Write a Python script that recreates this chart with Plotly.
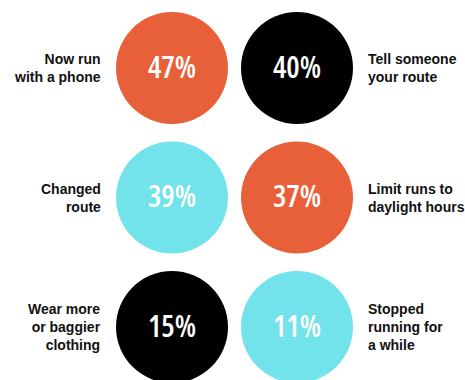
import plotly.graph_objects as go

# Data
labels = [
    "Now run<br>with a phone",
    "Tell someone<br>your route",
    "Changed<br>route",
    "Limit runs to<br>daylight hours",
    "Wear more<br>or baggier<br>clothing",
    "Stopped<br>running for<br>a while",
]
values = [47, 40, 39, 37, 15, 11]
colors = ["#E8603A", "#000000", "#72E2EB", "#E8603A", "#000000", "#72E2EB"]

cols = [i % 2 for i in range(len(values))]
rows = [i // 2 for i in range(len(values))]
pct_text = [f"{v}%" for v in values]

fig = go.Figure()
fig.add_trace(go.Scatter(
    x=cols, y=rows, mode="markers+text",
    marker=dict(size=112, color=colors, line=dict(width=0)),
    text=pct_text, textposition="middle center",
    textfont=dict(family="Open Sans", size=30, color="white", weight=600),
    hoverinfo="skip", cliponaxis=False,
))

for lab, c, r in zip(labels, cols, rows):
    left = c == 0
    fig.add_annotation(
        x=c, y=r, xref="x", yref="y", text=f"<b>{lab}</b>", showarrow=False,
        xanchor="right" if left else "left", yanchor="middle",
        align="right" if left else "left",
        xshift=-69 if left else 69,
        font=dict(family="Liberation Sans, Arial, sans-serif", size=14, color="#111111"),
    )

fig.update_layout(
    width=465, height=380, margin=dict(l=0, r=0, t=0, b=0),
    paper_bgcolor="white", plot_bgcolor="white", showlegend=False,
    xaxis=dict(range=[-172 / 125, (465 - 172) / 125], visible=False, fixedrange=True),
    yaxis=dict(range=[(380 - 68) / 129.5, -68 / 129.5], visible=False, fixedrange=True),
)

post = """
document.querySelectorAll('.textpoint text').forEach(function(t){
  t.style.fontStretch = '75%';
  t.setAttribute('transform', 'translate(0,2)');
});
"""
fig.write_html("out.html", post_script=post)
